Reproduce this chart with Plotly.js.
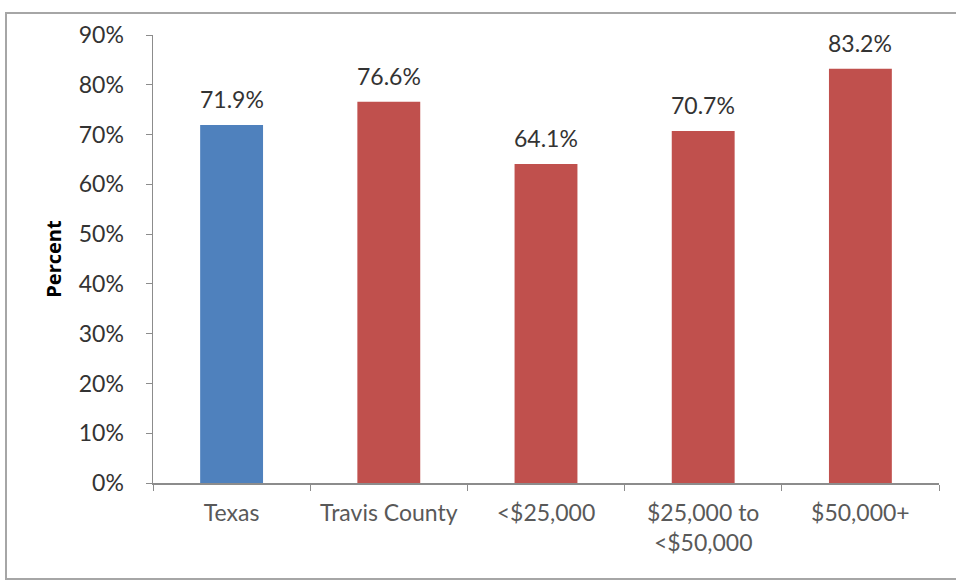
<!DOCTYPE html>
<html>
<head>
<meta charset="utf-8">
<script src="https://cdn.plot.ly/plotly-3.0.1.min.js"></script>
<style>
html,body{margin:0;padding:0;background:#fff;}
#wrap{position:relative;width:956px;height:580px;}
#chart{position:absolute;left:0;top:0;width:956px;height:580px;}
#frame{position:absolute;left:5px;top:12px;width:960px;height:564px;border:2px solid #a6a6a6;pointer-events:none;}
</style>
</head>
<body>
<div id="wrap">
<div id="chart"></div>
<div id="frame"></div>
</div>
<script>
const categories = ["Texas", "Travis County", "&lt;$25,000", "$25,000 to<br>&lt;$50,000", "$50,000+"];
const values = [0.719, 0.766, 0.641, 0.707, 0.832];
const valueLabels = ["71.9%", "76.6%", "64.1%", "70.7%", "83.2%"];
const barColors = ["#4F81BD", "#C0504D", "#C0504D", "#C0504D", "#C0504D"];
const yTickVals = [0, 0.1, 0.2, 0.3, 0.4, 0.5, 0.6, 0.7, 0.8, 0.9];

const FONT = "Lato, 'Open Sans', sans-serif";

const trace = {
  type: "bar",
  x: categories,
  y: values,
  marker: {color: barColors},
  width: 0.4,
  hoverinfo: "none"
};

const annotations = categories.map((c, i) => ({
  x: c,
  y: values[i],
  xref: "x",
  yref: "y",
  text: valueLabels[i],
  showarrow: false,
  yanchor: "middle",
  yshift: 26,
  font: {family: FONT, size: 23, color: "#333333"}
}));

const layout = {
  width: 956,
  height: 580,
  margin: {l: 153, r: 17, t: 35, b: 97},
  paper_bgcolor: "rgba(0,0,0,0)",
  plot_bgcolor: "rgba(0,0,0,0)",
  showlegend: false,
  font: {family: FONT},
  annotations: annotations,
  xaxis: {
    type: "category",
    showgrid: false,
    showline: true,
    linecolor: "#8c8c8c",
    linewidth: 1.5,
    ticks: "outside",
    tickson: "boundaries",
    ticklen: 6,
    tickcolor: "#8c8c8c",
    ticklabelstandoff: 9,
    tickfont: {size: 23, color: "#595959"}
  },
  yaxis: {
    range: [0, 0.9],
    tickvals: yTickVals,
    tickformat: ".0%",
    showgrid: false,
    zeroline: false,
    showline: true,
    linecolor: "#8c8c8c",
    linewidth: 1.5,
    ticks: "outside",
    ticklen: 6,
    tickcolor: "#8c8c8c",
    ticklabelstandoff: 17,
    tickfont: {size: 23, color: "#333333"},
    title: {text: "<b>Percent</b>", standoff: 12, font: {family: "'Open Sans', sans-serif", size: 20, color: "#000000"}}
  },
  bargap: 0.6
};

Plotly.newPlot("chart", [trace], layout, {displayModeBar: false, staticPlot: true});
</script>
</body>
</html>
